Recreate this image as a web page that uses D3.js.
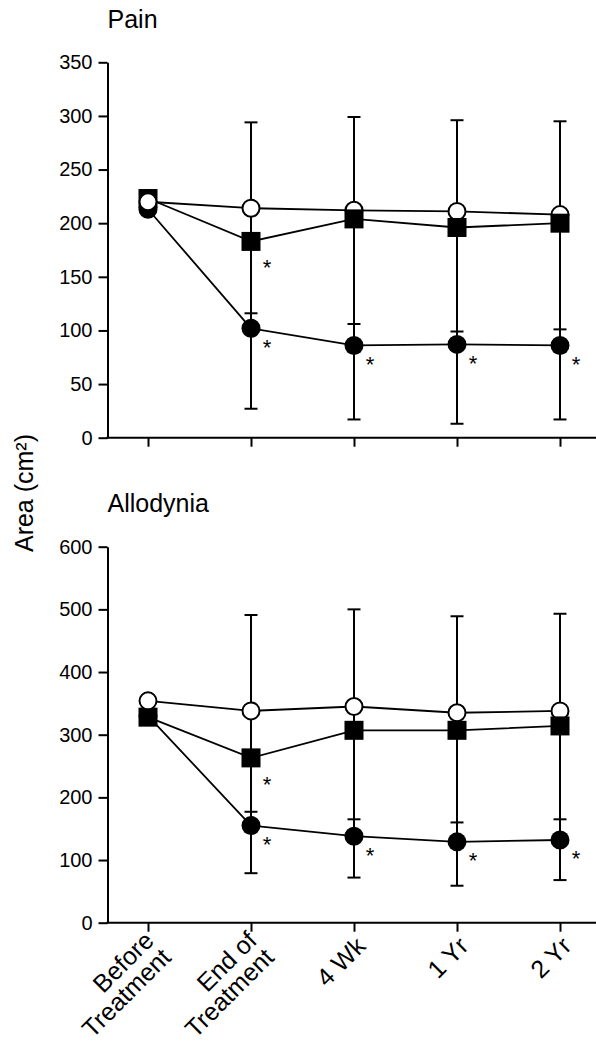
<!DOCTYPE html>
<html>
<head>
<meta charset="utf-8">
<script src="https://cdn.jsdelivr.net/npm/d3@7"></script>
<style>
  html, body { margin: 0; padding: 0; background: #fff; }
  svg { display: block; }
  text { font-family: "Liberation Sans", Arial, Helvetica, sans-serif; fill: #000; }
</style>
</head>
<body>
<svg id="chart" width="596" height="1046"></svg>
<script>
// ---------------- DATA ----------------
const categories = ["Before Treatment", "End of Treatment", "4 Wk", "1 Yr", "2 Yr"];
const categoryLines = [["Before", "Treatment"], ["End of", "Treatment"], ["4 Wk"], ["1 Yr"], ["2 Yr"]];

// Pain panel (area, cm²)
const painOpen        = [220, 214, 212, 211, 208];
const painOpenUpper   = [null, 294, 299, 296, 295];
const painSquare      = [223, 183, 204, 196, 200];
const painSquareLower = [null, 116, 106, 99, 101];
const painFilled      = [213, 102, 86, 87, 86];
const painFilledLower = [null, 27, 17, 13, 17];
const painSigSquare   = [false, true, false, false, false];
const painSigFilled   = [false, true, true, true, true];
const painTicks       = [0, 50, 100, 150, 200, 250, 300, 350];

// Allodynia panel (area, cm²)
const allodOpen        = [354, 338, 345, 335, 338];
const allodOpenUpper   = [null, 491, 500, 489, 493];
const allodSquare      = [328, 263, 307, 307, 314];
const allodSquareLower = [null, 177, 165, 160, 165];
const allodFilled      = [330, 155, 138, 129, 132];
const allodFilledLower = [null, 79, 72, 59, 68];
const allodSigSquare   = [false, true, false, false, false];
const allodSigFilled   = [false, true, true, true, true];
const allodTicks       = [0, 100, 200, 300, 400, 500, 600];

const titles = ["Pain", "Allodynia"];
const yLabel = "Area (cm²)";

// ---------------- LAYOUT ----------------
const svg = d3.select("#chart");
const axisX = 107.5;
const rightEdge = 596;
const x = d3.scalePoint().domain(categories).range([148, 560]);

const panels = [
  { title: titles[0], top: 62.3, bottom: 437.7, ticks: painTicks,
    open: painOpen, openUp: painOpenUpper, square: painSquare, squareLo: painSquareLower,
    filled: painFilled, filledLo: painFilledLower, sigS: painSigSquare, sigF: painSigFilled,
    titleY: 28.3, labels: false },
  { title: titles[1], top: 546.7, bottom: 922.7, ticks: allodTicks,
    open: allodOpen, openUp: allodOpenUpper, square: allodSquare, squareLo: allodSquareLower,
    filled: allodFilled, filledLo: allodFilledLower, sigS: allodSigSquare, sigF: allodSigFilled,
    titleY: 512.3, labels: true }
];

const R = 9.5, SQ = 19, CAP = 6.5;

panels.forEach(p => {
  const y = d3.scaleLinear().domain([0, d3.max(p.ticks)]).range([p.bottom, p.top]);
  const g = svg.append("g");

  // title
  g.append("text").attr("x", 107.5).attr("y", p.titleY)
    .attr("font-size", 25).text(p.title);

  // y axis
  const ya = g.append("g").attr("transform", `translate(${axisX},0)`)
    .call(d3.axisLeft(y).tickValues(p.ticks).tickSize(9).tickSizeOuter(0).tickPadding(6));
  ya.selectAll("path.domain").attr("stroke", "#000").attr("stroke-width", 2);
  ya.selectAll(".tick line").attr("stroke", "#000").attr("stroke-width", 2);
  ya.selectAll(".tick text").attr("font-size", 20)
    .attr("font-family", '"Liberation Sans", Arial, Helvetica, sans-serif').attr("fill", "#000");

  // x axis
  const xa = g.append("g").attr("transform", `translate(0,${p.bottom})`)
    .call(d3.axisBottom(x).tickSize(9).tickFormat(""));
  xa.select("path.domain").remove();
  xa.selectAll(".tick line").attr("stroke", "#000").attr("stroke-width", 2);
  g.append("line").attr("x1", axisX - 1).attr("x2", rightEdge)
    .attr("y1", p.bottom).attr("y2", p.bottom)
    .attr("stroke", "#000").attr("stroke-width", 2);

  // lines
  const line = d3.line().x((d, i) => x(categories[i])).y(d => y(d));
  [p.open, p.square, p.filled].forEach(s => {
    g.append("path").attr("d", line(s)).attr("fill", "none")
      .attr("stroke", "#000").attr("stroke-width", 1.8);
  });

  // error bars
  categories.forEach((c, i) => {
    const bounds = [p.openUp[i], p.squareLo[i], p.filledLo[i]].filter(v => v != null);
    if (!bounds.length) return;
    const vals = bounds.concat([p.open[i], p.square[i], p.filled[i]]);
    const cx = x(c);
    g.append("line").attr("x1", cx).attr("x2", cx)
      .attr("y1", y(d3.max(vals))).attr("y2", y(d3.min(vals)))
      .attr("stroke", "#000").attr("stroke-width", 2);
    bounds.forEach(b => {
      g.append("line").attr("x1", cx - CAP).attr("x2", cx + CAP)
        .attr("y1", y(b)).attr("y2", y(b))
        .attr("stroke", "#000").attr("stroke-width", 2);
    });
  });

  // markers (per-category stacking as in original)
  categories.forEach((c, i) => {
    const cx = x(c);
    const drawOpen = () => g.append("circle").attr("cx", cx).attr("cy", y(p.open[i])).attr("r", R - 1)
      .attr("fill", "#fff").attr("stroke", "#000").attr("stroke-width", 2);
    const drawSquare = () => g.append("rect").attr("x", cx - SQ / 2).attr("y", y(p.square[i]) - SQ / 2)
      .attr("width", SQ).attr("height", SQ).attr("fill", "#000");
    const drawFilled = () => g.append("circle").attr("cx", cx).attr("cy", y(p.filled[i])).attr("r", R)
      .attr("fill", "#000");
    if (i === 0) { drawFilled(); drawSquare(); drawOpen(); }
    else { drawOpen(); drawSquare(); drawFilled(); }
  });

  // significance asterisks
  categories.forEach((c, i) => {
    const cx = x(c);
    if (p.sigS[i]) g.append("text").attr("x", cx + 16).attr("y", y(p.square[i]) + 22 + 12)
      .attr("text-anchor", "middle").attr("font-size", 22).attr("fill", "#222").text("*");
    if (p.sigF[i]) g.append("text").attr("x", cx + 16).attr("y", y(p.filled[i]) + 14.5 + 12)
      .attr("text-anchor", "middle").attr("font-size", 22).attr("fill", "#222").text("*");
  });

  // category labels
  if (p.labels) {
    categories.forEach((c, i) => {
      const lines = categoryLines[i];
      const n = lines.length;
      const t = g.append("text")
        .attr("transform", `translate(${x(c) + 13},${p.bottom + 25}) rotate(-45)`)
        .attr("text-anchor", "end").attr("font-size", 25);
      lines.forEach((ln, j) => {
        t.append("tspan").attr("x", 0)
          .attr("dy", j === 0 ? -(n - 1) * 8 : 24)
          .text(ln);
      });
    });
  }
});

// shared y label
svg.append("text").attr("transform", "translate(33,493) rotate(-90)")
  .attr("text-anchor", "middle").attr("font-size", 25).text(yLabel);
</script>
</body>
</html>
